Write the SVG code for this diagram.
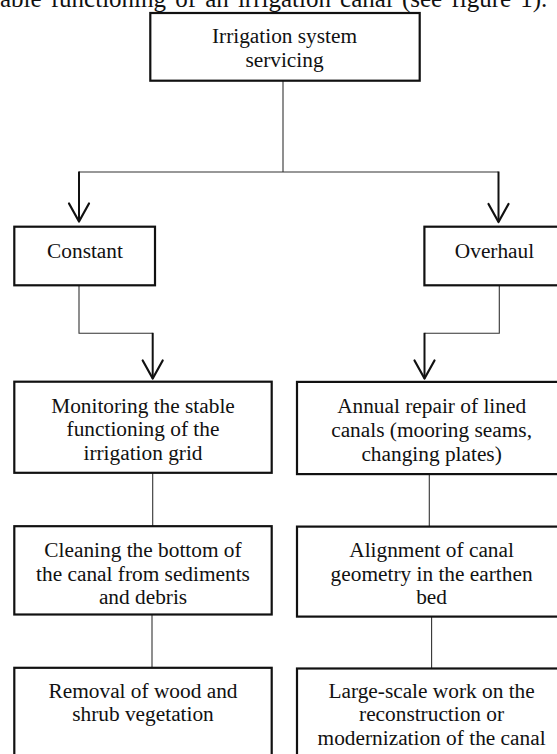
<svg xmlns="http://www.w3.org/2000/svg" width="557" height="754" viewBox="0 0 557 754">
<style>
  .box { fill: #ffffff; stroke: #111111; stroke-width: 2.2; }
  .lbl { font-family: "Liberation Serif", "Times New Roman", serif; font-size: 21.33px; fill: #111111; text-anchor: middle; }
  .thin { fill: none; stroke: #333333; stroke-width: 1.1; }
  .arr { fill: none; stroke: #111111; stroke-width: 2; marker-end: url(#vee); }
  .body { font-family: "Liberation Serif", "Times New Roman", serif; font-size: 25px; fill: #111111; }
</style>
<defs>
  <marker id="vee" markerUnits="userSpaceOnUse" markerWidth="30" markerHeight="30" refX="0" refY="0" orient="auto" overflow="visible">
    <path d="M -18 -10 L 0 0 L -18 10" fill="none" stroke="#111111" stroke-width="2.2" stroke-linejoin="round" stroke-linecap="round"/>
  </marker>
</defs>
<rect x="0" y="0" width="557" height="754" fill="#ffffff"/>

<text class="body" x="-16.7" y="6.5" word-spacing="2.9">stable functioning of an irrigation canal (see figure 1).</text>

<g id="connectors">
  <path class="thin" d="M 283 81 V 172"/>
  <path class="thin" d="M 79 172 H 498.5"/>
  <path class="arr" d="M 79 171.5 V 221.5"/>
  <path class="arr" d="M 498.5 171.5 V 222"/>
  <path class="thin" d="M 79 285.5 V 333.3 H 152.7"/>
  <path class="arr" d="M 152.7 332.8 V 378.5"/>
  <path class="thin" d="M 499.3 285.5 V 333.3 H 424.5"/>
  <path class="arr" d="M 424.5 332.8 V 378.5"/>
  <path class="thin" d="M 152.7 473 V 526"/>
  <path class="thin" d="M 152 614.5 V 668"/>
  <path class="thin" d="M 429.3 474 V 526.5"/>
  <path class="thin" d="M 431.6 616.5 V 668.5"/>
</g>

<g id="node-servicing">
  <rect class="box" x="150.3" y="13" width="269.4" height="67.7"/>
  <text class="lbl"><tspan x="284.5" y="43.3">Irrigation system</tspan><tspan x="284.5" y="66.8">servicing</tspan></text>
</g>

<g id="node-constant">
  <rect class="box" x="14.3" y="226.7" width="140.7" height="58.6"/>
  <text class="lbl" x="85" y="257.5">Constant</text>
</g>

<g id="node-overhaul">
  <rect class="box" x="424.4" y="226.7" width="140.7" height="58.6"/>
  <text class="lbl" x="494.5" y="257.8">Overhaul</text>
</g>

<g id="node-monitoring">
  <rect class="box" x="14.3" y="381.7" width="257.4" height="91.1"/>
  <text class="lbl"><tspan x="143" y="412.5">Monitoring the stable</tspan><tspan x="143" y="436.3">functioning of the</tspan><tspan x="143" y="460">irrigation grid</tspan></text>
</g>

<g id="node-cleaning">
  <rect class="box" x="14.3" y="526.2" width="257.4" height="88.3"/>
  <text class="lbl"><tspan x="143" y="557">Cleaning the bottom of</tspan><tspan x="143" y="580.5">the canal from sediments</tspan><tspan x="143" y="604">and debris</tspan></text>
</g>

<g id="node-removal">
  <rect class="box" x="14.3" y="667.8" width="257.4" height="100"/>
  <text class="lbl"><tspan x="143" y="697.5">Removal of wood and</tspan><tspan x="143" y="721">shrub vegetation</tspan></text>
</g>

<g id="node-annual">
  <rect class="box" x="297" y="381.9" width="270" height="92.2"/>
  <text class="lbl"><tspan x="431.6" y="413">Annual repair of lined</tspan><tspan x="431.6" y="436.8">canals (mooring seams,</tspan><tspan x="431.6" y="460.5">changing plates)</tspan></text>
</g>

<g id="node-alignment">
  <rect class="box" x="297" y="526.6" width="270" height="90"/>
  <text class="lbl"><tspan x="431.6" y="557.3">Alignment of canal</tspan><tspan x="431.6" y="580.8">geometry in the earthen</tspan><tspan x="431.6" y="604.3">bed</tspan></text>
</g>

<g id="node-largescale">
  <rect class="box" x="297" y="668.5" width="270" height="100"/>
  <text class="lbl"><tspan x="431.6" y="697.5">Large-scale work on the</tspan><tspan x="431.6" y="721">reconstruction or</tspan><tspan x="431.6" y="744.5">modernization of the canal</tspan></text>
</g>
</svg>
